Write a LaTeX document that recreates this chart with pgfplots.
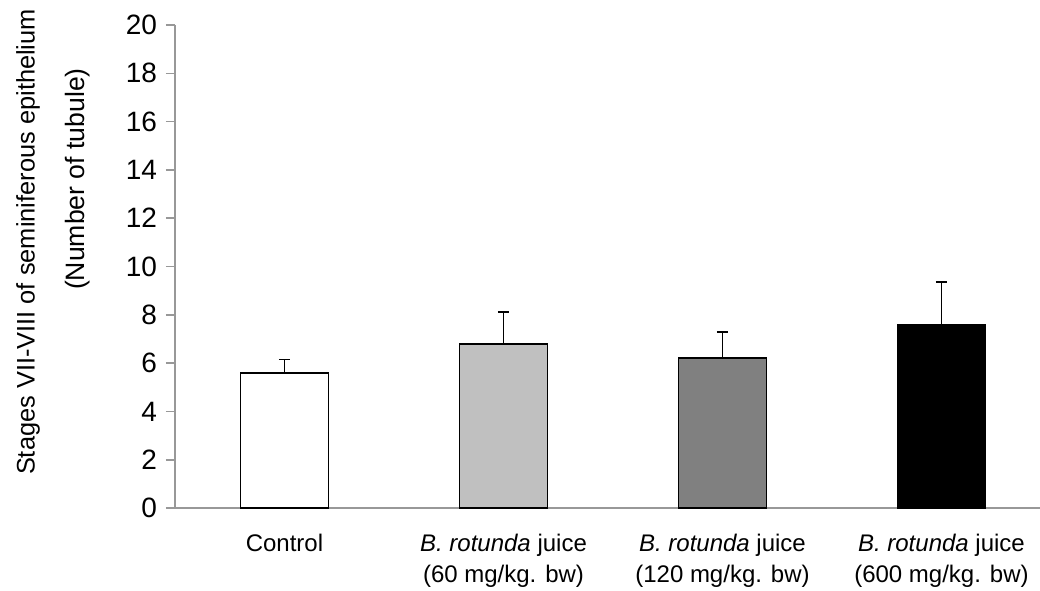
\documentclass[border=0pt]{standalone}
\usepackage{pgfplots}
\pgfplotsset{compat=1.18}
\usepackage{fontspec}
\setmainfont{Liberation Sans}
\definecolor{axisgray}{HTML}{989898}
\definecolor{lightbar}{HTML}{C0C0C0}
\definecolor{midbar}{HTML}{808080}
\begin{document}
\begin{tikzpicture}
\begin{axis}[
    at={(0,0)}, anchor=south west,
    scale only axis,
    width=432.5pt, height=241.5pt,
    ymin=0, ymax=20,
    ytick={0,2,...,20},
    xmin=-0.5, xmax=3.45,
    xtick={0,1,2,3},
    xticklabels={Control,
        {\textit{B. rotunda} juice\\(60 mg/kg. bw)},
        {\textit{B. rotunda} juice\\(120 mg/kg. bw)},
        {\textit{B. rotunda} juice\\(600 mg/kg. bw)}},
    major x tick style={draw=none},
    extra x ticks={-0.5,0.5,1.5,2.5},
    extra x tick labels={},
    extra x tick style={major tick length=5pt, tick style={draw=axisgray, line width=0.8pt}},
    xticklabel style={align=center, font=\fontsize{12}{15.5}\selectfont, yshift=-5pt},
    yticklabel style={font=\fontsize{14}{15}\selectfont, xshift=-1pt},
    /pgf/number format/assume math mode=true,
    axis x line*=bottom,
    axis y line*=left,
    axis line style={draw=axisgray, line width=0.8pt, -},
    tick style={draw=axisgray, line width=0.8pt},
    tick align=outside,
    major tick length=4.5pt,
    ybar, bar width=44pt, /pgf/bar shift=0pt,
    error bars/y dir=plus,
    error bars/y explicit,
    error bars/error mark options={rotate=90, mark size=2.75pt, line width=0.9pt, black},
    error bars/error bar style={line width=0.9pt, black},
]
\addplot[fill=white, draw=black, line width=0.9pt] coordinates {(0,5.6) +- (0,0.55)};
\addplot[fill=lightbar, draw=black, line width=0.9pt] coordinates {(1,6.8) +- (0,1.3)};
\addplot[fill=midbar, draw=black, line width=0.9pt] coordinates {(2,6.2) +- (0,1.1)};
\addplot[fill=black, draw=black, line width=0.9pt] coordinates {(3,7.6) +- (0,1.75)};
\end{axis}
% y-axis title, two lines placed as in the reference
\node[rotate=90, font=\fontsize{12.7}{15}\selectfont] at (-73.5pt,133pt)
    {Stages VII-VIII of seminiferous epithelium};
\node[rotate=90, font=\fontsize{13.3}{15}\selectfont] at (-48.5pt,164.5pt)
    {(Number of tubule)};
\pgfresetboundingbox
\path (-87.5pt,-41pt) rectangle (432.5pt,254pt);
\end{tikzpicture}
\end{document}
